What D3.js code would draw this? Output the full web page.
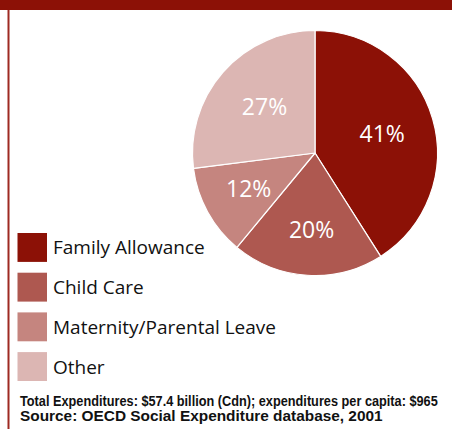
<!DOCTYPE html>
<html>
<head>
<meta charset="utf-8">
<script src="https://cdn.jsdelivr.net/npm/d3@7"></script>
<style>
  html, body { margin: 0; padding: 0; background: #fff; }
  svg { display: block; }
</style>
</head>
<body>
<svg id="chart" width="452" height="429"></svg>
<script>
// Family-related social expenditure shares
const categories = ["Family Allowance", "Child Care", "Maternity/Parental Leave", "Other"];
const shares = [41, 20, 12, 27];
const colors = ["#8c1106", "#ae5850", "#c5857f", "#dcb6b3"];
const footnotes = [
  "Total Expenditures: $57.4 billion (Cdn); expenditures per capita: $965",
  "Source: OECD Social Expenditure database, 2001"
];
// footnote widths, to emulate a condensed bold face
const footnoteWidths = [418, 363];
// small nudges for the percentage labels, relative to each slice centroid
const labelNudge = [[0, 0], [1, 6], [-5, 1.5], [2, -1]];

const svg = d3.select("#chart");
const W = 452, H = 429;

// frame: top band and left rule
svg.append("rect").attr("x", 0).attr("y", 0).attr("width", W).attr("height", 10).attr("fill", "#8c1106");
svg.append("rect").attr("x", 7.5).attr("y", 10).attr("width", 2).attr("height", H - 10).attr("fill", "#9e2a22");

// pie
const cx = 315, cy = 153, r = 122.5;
const pie = d3.pie().sort(null).value(d => d)(shares);
const arc = d3.arc().innerRadius(0).outerRadius(r);
const labelArc = d3.arc().innerRadius(70).outerRadius(70);

const g = svg.append("g").attr("transform", `translate(${cx},${cy})`);
g.selectAll("path.slice").data(pie).enter().append("path")
  .attr("class", "slice")
  .attr("d", arc)
  .attr("fill", (d, i) => colors[i])
  .attr("stroke", "#fff")
  .attr("stroke-width", 1.2)
  .attr("stroke-linejoin", "round");

g.selectAll("text.pct").data(pie).enter().append("text")
  .attr("class", "pct")
  .attr("x", (d, i) => labelArc.centroid(d)[0] + labelNudge[i][0])
  .attr("y", (d, i) => labelArc.centroid(d)[1] + labelNudge[i][1])
  .attr("text-anchor", "middle")
  .attr("dominant-baseline", "central")
  .attr("fill", "#fff")
  .attr("font-family", "'Open Sans', 'Noto Sans', sans-serif")
  .attr("font-size", 23)
  .text(d => d.data + "%");

// legend
const legendY = d3.scaleBand().domain(categories).range([233, 381]).paddingInner(0.272).paddingOuter(0);
const leg = svg.append("g");
leg.selectAll("rect").data(categories).enter().append("rect")
  .attr("x", 17.5)
  .attr("y", d => legendY(d))
  .attr("width", 29.5)
  .attr("height", legendY.bandwidth())
  .attr("fill", (d, i) => colors[i]);
leg.selectAll("text").data(categories).enter().append("text")
  .attr("x", 53)
  .attr("y", d => legendY(d) + legendY.bandwidth() / 2)
  .attr("dominant-baseline", "central")
  .attr("fill", "#111")
  .attr("font-family", "'Open Sans', 'Noto Sans', sans-serif")
  .attr("font-size", 19)
  .text(d => d);

// footnotes: bold text squeezed horizontally to a condensed look
svg.selectAll("text.note").data(footnotes).enter().append("text")
  .attr("class", "note")
  .attr("x", 0)
  .attr("y", 0)
  .attr("fill", "#111")
  .attr("font-family", "'Liberation Sans', Arial, sans-serif")
  .attr("font-weight", "bold")
  .attr("font-size", 14)
  .text(d => d)
  .each(function (d, i) {
    const natural = this.getComputedTextLength();
    const k = footnoteWidths[i] / natural;
    d3.select(this).attr("transform", `translate(20,${405.5 + i * 15.5}) scale(${k},1)`);
  });
</script>
</body>
</html>
